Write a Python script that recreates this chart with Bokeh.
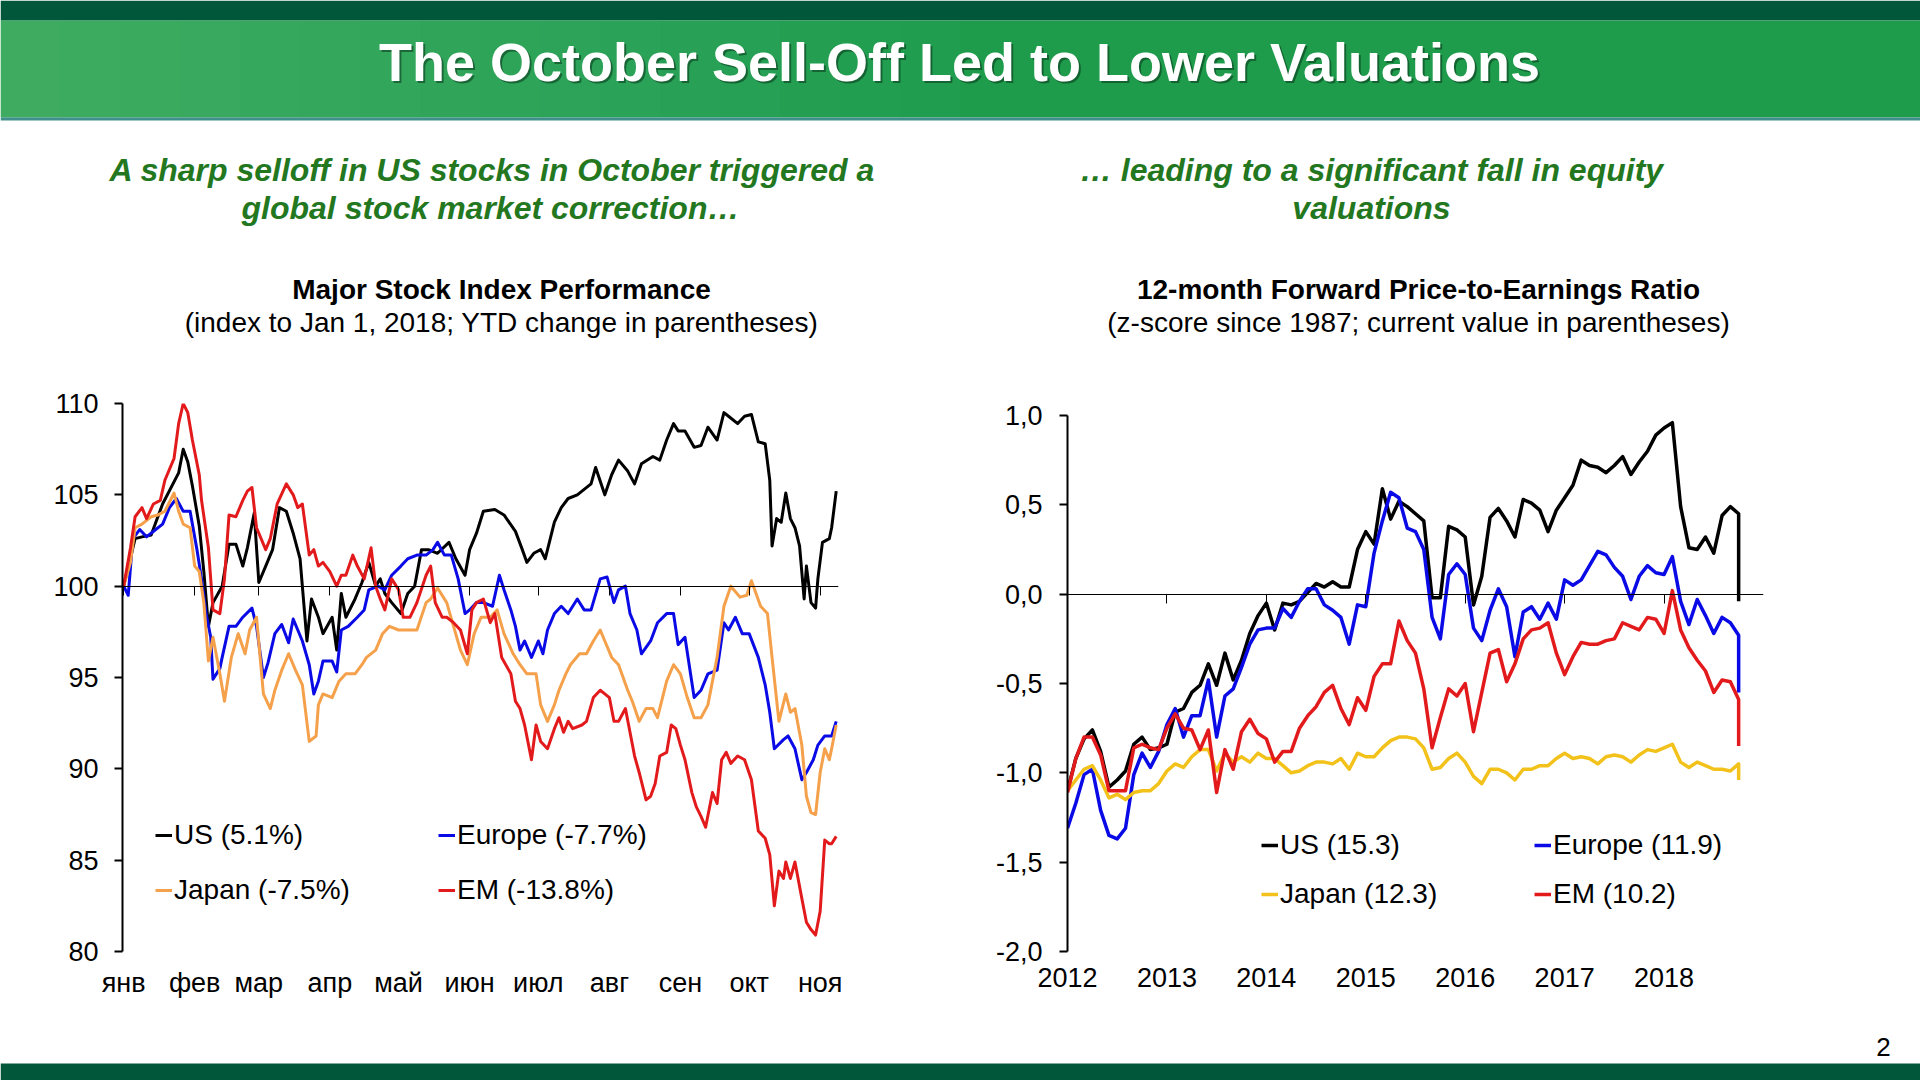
from bokeh.plotting import figure
from bokeh.models import Range1d, FixedTicker, LinearAxis, Label, BoxAnnotation, Legend, LegendItem
from bokeh.layouts import column, row
from bokeh.embed import file_html
from bokeh.resources import INLINE

# ---------------- Left chart: Major Stock Index Performance (days since Jan 1, 2018; Jan 1 = 100)
month_days = [0, 31, 59, 90, 120, 151, 181, 212, 243, 273, 304]
month_labels = ["янв", "фев", "мар", "апр", "май", "июн", "июл", "авг", "сен", "окт", "ноя"]
idx_ticks = [80, 85, 90, 95, 100, 105, 110]
idx_labels = ["80", "85", "90", "95", "100", "105", "110"]

us_day = [0, 5, 8, 12, 17, 24, 26, 28, 30, 33, 35, 37, 39, 43, 46, 49, 52, 54, 57, 59, 62, 65, 68, 71, 74,
          77, 80, 82, 85, 87, 91, 93, 95, 97, 101, 104, 107, 110, 112, 114, 117, 121, 124, 127, 130, 133,
          137, 142, 145, 149, 151, 154, 157, 162, 166, 171, 174, 176, 179, 182, 184, 188, 191, 194, 198,
          201, 204, 206, 210, 213, 216, 220, 223, 226, 231, 234, 237, 240, 242, 245, 249, 252, 255, 259,
          262, 264, 268, 271, 274, 277, 280, 282, 283, 285, 287, 289, 291, 293, 295, 297, 298, 300, 302,
          303, 305, 308, 309, 311]
us_idx = [100.0, 102.6, 102.7, 102.8, 104.5, 106.2, 107.5, 106.8, 105.5, 103.3, 100.8, 97.8, 99.1, 100.0,
          102.3, 102.3, 101.1, 102.1, 104.0, 100.2, 101.1, 102.0, 104.3, 104.1, 102.9, 101.5, 97.0, 99.3,
          98.3, 97.4, 98.3, 96.5, 99.6, 98.3, 99.3, 100.2, 101.3, 100.0, 100.4, 99.6, 99.1, 98.5, 99.6,
          100.0, 102.0, 102.0, 101.8, 102.4, 101.5, 100.6, 102.0, 102.9, 104.1, 104.2, 103.9, 103.0, 102.0,
          101.3, 101.8, 102.0, 101.5, 103.5, 104.3, 104.8, 105.0, 105.3, 105.6, 106.5, 105.0, 106.1, 106.9,
          106.3, 105.6, 106.7, 107.1, 106.9, 108.0, 108.9, 108.5, 108.5, 107.6, 107.7, 108.7, 108.0, 109.5,
          109.3, 108.9, 109.3, 109.4, 107.9, 107.8, 105.8, 102.2, 103.7, 103.5, 105.1, 103.7, 103.2, 102.2,
          99.3, 101.1, 99.1, 98.8, 100.4, 102.4, 102.6, 103.2, 105.2]

eu_day = [0, 2, 4, 7, 10, 14, 17, 20, 23, 26, 29, 32, 34, 36, 38, 39, 42, 43, 46, 49, 52, 56, 58, 61, 63,
          66, 69, 72, 74, 76, 78, 81, 83, 85, 87, 91, 93, 95, 98, 102, 105, 107, 111, 114, 117, 121, 124,
          128, 132, 135, 137, 140, 143, 146, 149, 151, 154, 157, 161, 164, 166, 169, 171, 173, 175, 178,
          181, 183, 185, 188, 191, 194, 198, 201, 204, 208, 211, 214, 216, 219, 221, 224, 226, 230, 233,
          237, 240, 242, 245, 249, 252, 255, 259, 262, 264, 267, 270, 273, 277, 280, 282, 284, 288, 290,
          293, 296, 298, 301, 303, 306, 309, 311]
eu_idx = [100.0, 99.5, 102.6, 103.1, 102.7, 103.1, 103.4, 104.3, 104.8, 104.1, 104.1, 102.0, 100.4, 98.5,
          97.2, 94.9, 95.5, 96.1, 97.8, 97.8, 98.3, 98.8, 97.8, 95.0, 95.8, 97.4, 97.9, 96.9, 98.2, 97.6,
          97.0, 95.7, 94.1, 94.8, 95.9, 95.9, 95.3, 97.6, 97.8, 98.3, 98.7, 99.8, 100.0, 99.8, 100.6, 101.1,
          101.5, 101.7, 101.7, 102.0, 102.4, 101.7, 101.7, 100.4, 98.5, 98.7, 99.1, 99.1, 98.9, 100.6, 99.8,
          98.7, 97.8, 96.5, 97.0, 96.1, 97.0, 96.3, 97.6, 98.5, 98.9, 98.5, 99.3, 98.7, 98.7, 100.4, 100.5,
          99.1, 99.8, 100.0, 98.5, 97.6, 96.3, 97.0, 98.0, 98.5, 98.5, 96.8, 97.2, 93.9, 94.3, 95.2, 95.4,
          98.0, 97.6, 98.3, 97.4, 97.4, 96.1, 94.6, 93.1, 91.1, 91.6, 91.8, 91.1, 89.4, 89.8, 90.5, 91.3,
          91.8, 91.8, 92.6]

jp_day = [0, 3, 5, 8, 12, 15, 18, 22, 24, 26, 29, 31, 33, 35, 37, 39, 42, 44, 47, 50, 53, 55, 58, 61, 64,
          66, 69, 72, 75, 78, 81, 84, 85, 87, 91, 94, 97, 101, 104, 106, 110, 113, 116, 120, 124, 128, 132,
          134, 137, 141, 144, 147, 150, 153, 156, 160, 163, 166, 170, 173, 176, 180, 182, 185, 188, 190,
          193, 195, 199, 202, 205, 208, 210, 213, 216, 220, 222, 225, 228, 231, 233, 237, 240, 243, 246,
          249, 252, 255, 259, 262, 265, 269, 272, 274, 278, 281, 283, 286, 289, 291, 293, 296, 298, 300,
          302, 304, 306, 308, 309, 311]
jp_idx = [100.0, 101.3, 103.2, 103.4, 103.8, 103.9, 104.1, 105.1, 104.1, 103.4, 103.2, 101.1, 100.8, 99.1,
          95.9, 97.2, 95.2, 93.7, 96.1, 97.4, 96.3, 97.6, 98.3, 94.1, 93.3, 94.3, 95.4, 96.3, 95.4, 94.6,
          91.5, 91.8, 93.5, 94.1, 93.9, 94.8, 95.2, 95.2, 95.7, 96.1, 96.5, 97.4, 97.8, 97.6, 97.6, 97.6,
          99.1, 99.3, 99.9, 99.1, 97.8, 96.5, 95.7, 97.4, 98.3, 98.3, 98.7, 97.4, 96.3, 95.7, 95.2, 95.2,
          93.5, 92.6, 93.5, 94.3, 95.2, 95.7, 96.3, 96.3, 97.0, 97.6, 97.0, 96.1, 95.7, 94.3, 93.7, 92.6,
          93.3, 93.3, 92.8, 94.8, 95.7, 95.2, 93.9, 92.8, 92.8, 93.5, 96.1, 98.9, 100.0, 99.4, 99.5, 100.3,
          98.9, 98.5, 96.1, 92.6, 94.1, 93.1, 93.3, 91.3, 88.5, 87.6, 87.5, 89.8, 91.1, 90.5, 91.1, 92.4]

em_day = [0, 3, 5, 8, 10, 13, 16, 18, 22, 24, 26, 28, 30, 33, 34, 37, 39, 42, 44, 46, 49, 52, 54, 56, 58,
          62, 64, 67, 71, 74, 76, 78, 81, 83, 85, 87, 90, 93, 95, 97, 100, 102, 105, 108, 110, 112, 114,
          117, 120, 122, 125, 128, 132, 134, 136, 139, 141, 144, 147, 150, 152, 154, 157, 160, 162, 165,
          169, 171, 173, 175, 178, 180, 182, 185, 188, 190, 192, 194, 196, 200, 202, 205, 208, 210, 212,
          214, 216, 219, 221, 223, 225, 228, 230, 232, 234, 237, 239, 241, 243, 245, 248, 250, 252, 254,
          257, 259, 261, 263, 265, 268, 271, 274, 277, 280, 282, 284, 286, 288, 289, 291, 293, 296, 298,
          300, 302, 304, 306, 308, 309, 311]
em_idx = [100.0, 102.1, 103.8, 104.3, 103.7, 104.5, 104.7, 105.8, 107.0, 108.9, 110.0, 109.5, 108.0, 106.1,
          104.7, 102.1, 98.7, 98.5, 100.4, 103.9, 103.8, 104.7, 105.2, 105.4, 103.2, 102.0, 102.6, 104.5,
          105.6, 105.0, 104.3, 104.5, 101.7, 102.0, 101.1, 101.3, 100.8, 100.0, 100.6, 100.6, 101.7, 101.1,
          100.4, 102.1, 100.0, 99.3, 98.7, 100.4, 99.8, 98.3, 98.3, 99.1, 100.6, 101.1, 99.1, 98.3, 98.3,
          98.0, 97.6, 96.3, 98.7, 99.1, 99.3, 98.0, 98.5, 96.1, 95.2, 93.7, 93.3, 92.4, 90.5, 92.4, 91.5,
          91.1, 92.2, 92.8, 92.0, 92.6, 92.2, 92.4, 92.6, 93.9, 94.3, 94.1, 93.9, 92.6, 92.6, 93.3, 92.0,
          90.7, 89.8, 88.3, 88.5, 89.2, 90.7, 90.9, 92.4, 92.2, 91.3, 90.5, 88.7, 87.9, 87.4, 86.8, 88.7,
          88.1, 90.5, 90.9, 90.3, 90.7, 90.5, 89.4, 86.6, 86.2, 85.3, 82.5, 84.4, 84.0, 84.9, 84.0, 84.9,
          82.9, 81.6, 81.2, 80.9, 82.2, 86.1, 85.9, 85.9, 86.3]

left_legend_labels = ["US (5.1%)", "Europe (-7.7%)", "Japan (-7.5%)", "EM (-13.8%)"]

# ---------------- Right chart: 12-month forward P/E z-score (months since Jan 2012)
pe_month = list(range(82)) + [81]
year_ticks = [0, 12, 24, 36, 48, 60, 72]
year_labels = ["2012", "2013", "2014", "2015", "2016", "2017", "2018"]
pe_ticks = [-2.0, -1.5, -1.0, -0.5, 0.0, 0.5, 1.0]
pe_labels = ["-2,0", "-1,5", "-1,0", "-0,5", "0,0", "0,5", "1,0"]

us_pe = [-1.10, -0.92, -0.81, -0.76, -0.88, -1.08, -1.04, -0.99, -0.84, -0.80, -0.87, -0.86, -0.84, -0.66,
         -0.64, -0.55, -0.51, -0.39, -0.51, -0.33, -0.48, -0.37, -0.22, -0.12, -0.05, -0.20, -0.05, -0.06,
         -0.04, 0.01, 0.06, 0.04, 0.07, 0.04, 0.04, 0.25, 0.35, 0.28, 0.59, 0.42, 0.52, 0.49, 0.45, 0.41,
         -0.02, -0.02, 0.38, 0.36, 0.32, -0.06, 0.10, 0.43, 0.48, 0.41, 0.32, 0.53, 0.51, 0.47, 0.35, 0.47,
         0.54, 0.61, 0.75, 0.72, 0.71, 0.68, 0.72, 0.77, 0.67, 0.74, 0.80, 0.89, 0.93, 0.96, 0.49, 0.26,
         0.25, 0.32, 0.23, 0.44, 0.49, 0.45, -0.04]
eu_pe = [-1.31, -1.17, -1.01, -0.98, -1.21, -1.35, -1.37, -1.31, -1.01, -0.89, -0.97, -0.88, -0.73, -0.64,
         -0.80, -0.68, -0.68, -0.48, -0.80, -0.57, -0.53, -0.41, -0.28, -0.20, -0.19, -0.19, -0.08, -0.13,
         -0.04, 0.03, 0.03, -0.06, -0.09, -0.13, -0.28, -0.06, -0.07, 0.23, 0.41, 0.57, 0.54, 0.37, 0.35,
         0.25, -0.13, -0.25, 0.11, 0.17, 0.11, -0.19, -0.26, -0.09, 0.03, -0.07, -0.35, -0.10, -0.07, -0.14,
         -0.05, -0.14, 0.08, 0.05, 0.08, 0.16, 0.24, 0.22, 0.15, 0.10, -0.03, 0.10, 0.16, 0.12, 0.11, 0.21,
         -0.04, -0.17, -0.03, -0.12, -0.22, -0.13, -0.16, -0.23, -0.55]
jp_pe = [-1.10, -1.04, -0.98, -0.96, -1.04, -1.14, -1.12, -1.15, -1.11, -1.10, -1.10, -1.06, -0.99, -0.95,
         -0.97, -0.91, -0.87, -0.87, -0.99, -0.89, -0.94, -0.91, -0.94, -0.89, -0.92, -0.92, -0.96, -1.00,
         -0.99, -0.96, -0.94, -0.94, -0.95, -0.92, -0.98, -0.89, -0.91, -0.91, -0.86, -0.82, -0.80, -0.80,
         -0.81, -0.86, -0.98, -0.97, -0.92, -0.89, -0.94, -1.02, -1.06, -0.98, -0.98, -1.00, -1.04, -0.98,
         -0.98, -0.96, -0.96, -0.92, -0.89, -0.92, -0.91, -0.92, -0.95, -0.91, -0.90, -0.91, -0.94, -0.90,
         -0.87, -0.88, -0.86, -0.84, -0.94, -0.97, -0.94, -0.96, -0.98, -0.98, -0.99, -0.95, -1.04]
em_pe = [-1.11, -0.92, -0.80, -0.80, -0.90, -1.10, -1.10, -1.10, -0.86, -0.84, -0.86, -0.87, -0.75, -0.67,
         -0.75, -0.76, -0.87, -0.76, -1.11, -0.87, -0.98, -0.77, -0.70, -0.78, -0.81, -0.94, -0.88, -0.88,
         -0.75, -0.68, -0.63, -0.55, -0.51, -0.64, -0.73, -0.58, -0.65, -0.46, -0.39, -0.39, -0.15, -0.26,
         -0.33, -0.53, -0.86, -0.69, -0.53, -0.57, -0.50, -0.77, -0.55, -0.33, -0.31, -0.49, -0.39, -0.25,
         -0.20, -0.19, -0.16, -0.33, -0.45, -0.35, -0.27, -0.28, -0.28, -0.26, -0.25, -0.16, -0.18, -0.20,
         -0.13, -0.14, -0.22, 0.02, -0.20, -0.30, -0.37, -0.43, -0.55, -0.48, -0.49, -0.59, -0.85]

right_legend_labels = ["US (15.3)", "Europe (11.9)", "Japan (12.3)", "EM (10.2)"]

# ---------------- texts
slide_title = "The October Sell-Off Led to Lower Valuations"
left_lead = ["A sharp selloff in US stocks in October triggered a", "global stock market correction…"]
right_lead = ["… leading to a significant fall in equity", "valuations"]
left_title = "Major Stock Index Performance"
left_sub = "(index to Jan 1, 2018; YTD change in parentheses)"
right_title = "12-month Forward Price-to-Earnings Ratio"
right_sub = "(z-score since 1987; current value in parentheses)"
page_no = "2"

FONT = "Liberation Sans"
GREEN_TXT = "#23781F"
C_US, C_EU, C_JP, C_JP2, C_EM = "#000000", "#0A0AE6", "#F5A04A", "#F2C21B", "#E31A1C"


def blank(w, h, x0, y0, bg="white"):
    f = figure(width=w, height=h, x_range=Range1d(x0, x0 + w), y_range=Range1d(y0 + h, y0),
               x_axis_type=None, y_axis_type=None, toolbar_location=None, tools="",
               output_backend="svg", min_border=0, background_fill_color=bg, border_fill_color=bg)
    f.outline_line_color = None
    return f


def lab(f, x, y, text, size, color="black", style="normal", align="center", font=FONT, alpha=1.0):
    f.add_layout(Label(x=x, y=y, text=text, text_font=font, text_font_size=f"{size}px",
                       text_color=color, text_font_style=style, text_align=align,
                       text_baseline="middle", text_alpha=alpha))


def box(f, l, r, t, b, color, alpha=1.0):
    f.add_layout(BoxAnnotation(left=l, right=r, top=t, bottom=b, fill_color=color,
                               fill_alpha=alpha, line_color=None, level="underlay"))


# ---------------- header + text block (full width, page coordinates)
top = blank(1920, 360, 0, 0)
box(top, 0, 1920, 0, 20, "#00573A")
box(top, 0, 1920, 20, 117, "#1E9C4C")
for k in range(1, 17):
    box(top, 0, 60 * k, 20, 117, "#E8F2E8", 0.013)
box(top, 0, 1920, 117, 120, "#3F8F8C")
lab(top, 961, 63, slide_title, 54, color="#0B3D20", style="bold", alpha=0.6)
lab(top, 959, 61, slide_title, 54, color="white", style="bold")

lab(top, 492, 169, left_lead[0], 32, GREEN_TXT, "bold italic")
lab(top, 490, 207, left_lead[1], 32, GREEN_TXT, "bold italic")
lab(top, 501, 289, left_title, 28, style="bold")
lab(top, 501, 322, left_sub, 28)

lab(top, 1371, 169, right_lead[0], 32, GREEN_TXT, "bold italic")
lab(top, 1371, 207, right_lead[1], 32, GREEN_TXT, "bold italic")
lab(top, 1418, 289, right_title, 28, style="bold")
lab(top, 1418, 322, right_sub, 28)


def chart(xr, yr, bl, br, bt, bb):
    p = figure(width=960, height=665, x_range=xr, y_range=yr, x_axis_type=None, y_axis_type=None,
               toolbar_location=None, tools="", output_backend="svg",
               min_border_left=bl, min_border_right=br, min_border_top=bt, min_border_bottom=bb)
    p.outline_line_color = None
    return p


def add_axes(p, yticks, ylabels, xticks, xlabels, base, ystand):
    ya = LinearAxis(ticker=FixedTicker(ticks=yticks), major_label_overrides=dict(zip(yticks, ylabels)),
                    bounds=(yticks[0], yticks[-1]))
    ya.axis_line_width = 2
    ya.major_tick_line_width = 2
    ya.major_tick_out = 8
    ya.major_tick_in = 0
    ya.minor_tick_line_color = None
    ya.major_label_standoff = ystand
    ya.major_label_text_font = FONT
    ya.major_label_text_font_size = "27px"
    ya.major_label_text_color = "black"
    p.add_layout(ya, "left")

    xa = LinearAxis(ticker=FixedTicker(ticks=xticks), major_label_overrides=dict(zip(xticks, xlabels)))
    xa.axis_line_color = None
    xa.major_tick_line_color = None
    xa.minor_tick_line_color = None
    xa.major_tick_out = 0
    xa.major_tick_in = 0
    xa.major_label_standoff = 16
    xa.major_label_text_font = FONT
    xa.major_label_text_font_size = "27px"
    xa.major_label_text_color = "black"
    p.add_layout(xa, "below")

    ba = LinearAxis(ticker=FixedTicker(ticks=xticks), fixed_location=base)
    ba.axis_line_width = 1
    ba.major_tick_line_width = 1
    ba.major_tick_in = 9
    ba.major_tick_out = 0
    ba.minor_tick_line_color = None
    ba.major_label_text_font_size = "1px"
    ba.major_label_text_alpha = 0
    ba.major_label_standoff = 0
    p.add_layout(ba, "above")


def add_legend(p, items, loc, spacing):
    lg = Legend(items=items, location=loc, orientation="vertical", spacing=spacing, padding=0, margin=0,
                glyph_width=17, glyph_height=20, label_standoff=2, label_text_font=FONT,
                label_text_font_size="28px", label_text_color="black",
                border_line_color=None, background_fill_alpha=0)
    p.add_layout(lg)


# ---------------- left chart (frame: x 122..838, y 403..951)
pl = chart(Range1d(-0.5, 312.0), Range1d(80, 110), 122, 122, 43, 74)
add_axes(pl, idx_ticks, idx_labels, month_days, month_labels, 100, 16)
lw = 3
r_us = pl.line(us_day, us_idx, line_color=C_US, line_width=lw, line_join="round")
r_eu = pl.line(eu_day, eu_idx, line_color=C_EU, line_width=lw, line_join="round")
r_jp = pl.line(jp_day, jp_idx, line_color=C_JP, line_width=lw, line_join="round")
r_em = pl.line(em_day, em_idx, line_color=C_EM, line_width=lw, line_join="round")
add_legend(pl, [LegendItem(label=left_legend_labels[0], renderers=[r_us]),
                LegendItem(label=left_legend_labels[2], renderers=[r_jp])], (33, 45), 23)
add_legend(pl, [LegendItem(label=left_legend_labels[1], renderers=[r_eu]),
                LegendItem(label=left_legend_labels[3], renderers=[r_em])], (316, 45), 23)

# ---------------- right chart (frame: x 1067..1763, y 403..951; 1,0 sits at y 415)
pr = chart(Range1d(0, 84), Range1d(-2, 1.0672), 107, 157, 43, 74)
add_axes(pr, pe_ticks, pe_labels, year_ticks, year_labels, 0, 17)
lw2 = 3.5
q_us = pr.line(pe_month, us_pe, line_color=C_US, line_width=lw2, line_join="round")
q_eu = pr.line(pe_month, eu_pe, line_color=C_EU, line_width=lw2, line_join="round")
q_jp = pr.line(pe_month, jp_pe, line_color=C_JP2, line_width=lw2, line_join="round")
q_em = pr.line(pe_month, em_pe, line_color=C_EM, line_width=lw2, line_join="round")
add_legend(pr, [LegendItem(label=right_legend_labels[0], renderers=[q_us]),
                LegendItem(label=right_legend_labels[2], renderers=[q_jp])], (194, 41), 17)
add_legend(pr, [LegendItem(label=right_legend_labels[1], renderers=[q_eu]),
                LegendItem(label=right_legend_labels[3], renderers=[q_em])], (467, 41), 17)

# ---------------- footer
ft = blank(1920, 55, 0, 1025)
box(ft, 0, 1920, 1063, 1080, "#00573A")
lab(ft, 1883, 1046, page_no, 26)

page = column(top, row(pl, pr), ft)
open("out.html", "w").write(file_html(page, INLINE))
